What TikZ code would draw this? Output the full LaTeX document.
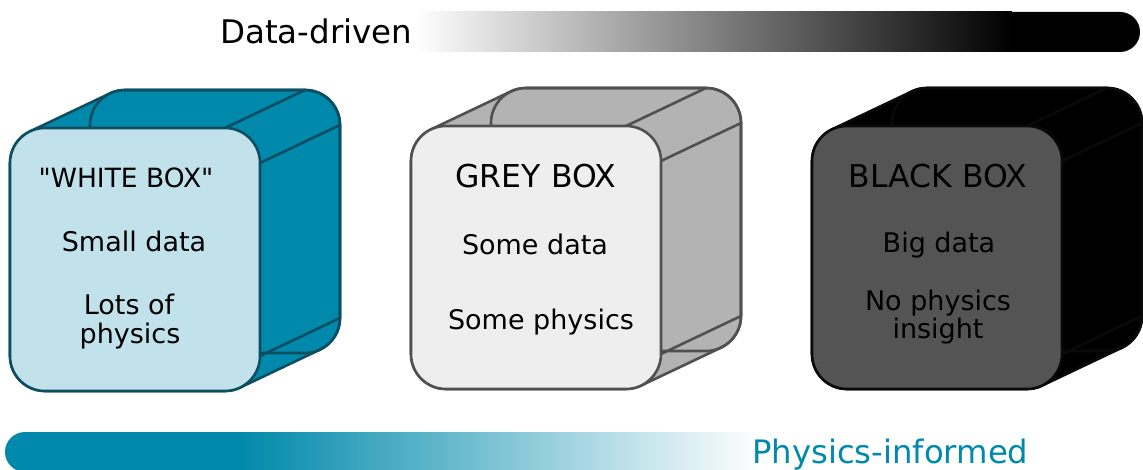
\documentclass[tikz,border=0pt]{standalone}
\usepackage{fontspec}
\setmainfont{DejaVu Sans}
% same family without the TeX quote mapping, so that " stays straight
\newfontfamily\plainfont{DejaVu Sans}
\definecolor{teal}{RGB}{0,137,170}
\definecolor{tealdark}{RGB}{14,78,98}
\definecolor{tealfront}{RGB}{193,226,235}
\definecolor{greyside}{RGB}{179,179,179}
\definecolor{greyfront}{RGB}{238,238,238}
\definecolor{greyline}{RGB}{80,80,80}
\definecolor{blackfront}{RGB}{84,84,84}
\definecolor{blackline}{RGB}{10,10,10}

% rounded cube: #1,#2 = top-left of front face, #3 side fill, #4 front fill, #5 line colour
\newcommand{\roundcube}[5]{%
  \begin{scope}[shift={(#1,#2)}, line width=2.6pt, draw=#5, line join=round]
    % outer hull of front and back faces
    \draw[fill=#3] (0,228) -- (0,35)
      arc[start angle=180, end angle=115.4, radius=35pt] -- ++(80,-38)
      arc[start angle=115.4, end angle=90, radius=35pt] -- (295,-38)
      arc[start angle=90, end angle=0, radius=35pt] -- (330,190)
      arc[start angle=0, end angle=-64.6, radius=35pt] -- ++(-80,38)
      arc[start angle=-64.6, end angle=-90, radius=35pt] -- (35,263)
      arc[start angle=-90, end angle=-180, radius=35pt] -- cycle;
    % back face
    \draw[rounded corners=35pt] (80,-38) rectangle (330,225);
    % edges joining the faces
    \draw (215,0) -- ++(80,-38);
    \draw (250,35) -- ++(80,-38);
    \draw (250,228) -- ++(80,-38);
    % front face
    \draw[fill=#4, rounded corners=35pt] (0,0) rectangle (250,263);
  \end{scope}}

\tikzset{
  body/.style={anchor=base, inner sep=0pt, font=\fontsize{27}{32}\selectfont},
  title/.style={anchor=base, inner sep=0pt, font=\fontsize{31.5}{36}\selectfont},
}

\begin{document}
\begin{tikzpicture}[x=1pt, y=-1pt]
  \useasboundingbox (0,0) rectangle (1143,470);
  \clip (0,0) rectangle (1143,470);

  % data-driven scale bar
  \fill[black] (415,12) -- (1120,12) arc[start angle=90, end angle=-90, radius=20pt] -- (415,52) -- cycle;
  \shade[left color=white, right color=black] (415,12) rectangle (1012,52);
  \node[anchor=base west, inner sep=0pt, font=\fontsize{32.5}{38}\selectfont] (dd) at (220,44) {Data-driven};

  % physics-informed scale bar
  \fill[teal] (240,432) -- (25,432) arc[start angle=90, end angle=270, radius=20pt] -- (240,472) -- cycle;
  \shade[left color=teal, right color=white] (239.5,432) rectangle (760,472);
  \node[anchor=base west, inner sep=0pt, text=teal, font=\fontsize{32.3}{37}\selectfont] (pi) at (752,463) {Physics-informed};

  % the three boxes
  \roundcube{10}{128}{teal}{tealfront}{tealdark}
  \roundcube{411}{126}{greyside}{greyfront}{greyline}
  \roundcube{812}{126}{black}{blackfront}{blackline}

  % white box text
  \node[body, font=\plainfont\fontsize{26.5}{32}\selectfont] (w1) at (126,188) {"WHITE BOX"};
  \node[body] (w2) at (134,252) {Small data};
  \node[body] (w3) at (129,315) {Lots of};
  \node[body] (w4) at (130,343) {physics};

  % grey box text
  \node[title] (g1) at (536,188) {GREY BOX};
  \node[body] (g2) at (535,255) {Some data};
  \node[body] (g3) at (541,330) {Some physics};

  % black box text
  \node[title] (b1) at (938,188) {BLACK BOX};
  \node[body] (b2) at (939,253) {Big data};
  \node[body] (b3) at (938,310) {No physics};
  \node[body] (b4) at (938,338) {insight};
\end{tikzpicture}
\end{document}
